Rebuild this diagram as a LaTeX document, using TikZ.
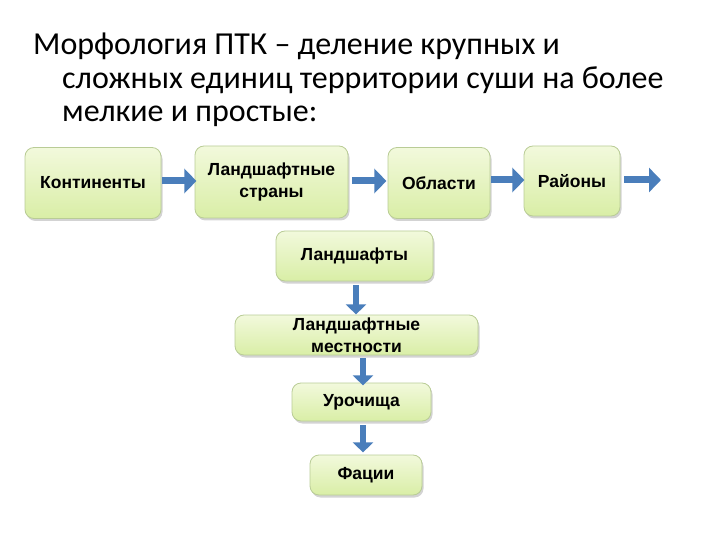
\documentclass[tikz,border=0pt]{standalone}
\usepackage{fontspec}
\setmainfont{Carlito}
\newfontfamily\boxfont{Liberation Sans}
\usetikzlibrary{arrows.meta,shadows}
\definecolor{arrowblue}{HTML}{4A7EBB}
\definecolor{boxedge}{HTML}{B9CC96}
\definecolor{boxtop}{HTML}{F2F9DC}
\definecolor{boxbot}{HTML}{D9EEA6}
\tikzset{
  stage/.style={draw=boxedge, line width=0.8pt, rounded corners=9pt,
    top color=boxtop, bottom color=boxbot,
    drop shadow={shadow xshift=1.5pt, shadow yshift=-2.5pt, opacity=0.35},
    font=\boxfont\bfseries\fontsize{17.5}{22}\selectfont, align=center,
    inner sep=0pt, text=black},
  flow/.style={draw=arrowblue, line width=7pt,
    -{Triangle[width=24pt,length=12pt]}},
  vflow/.style={draw=arrowblue, line width=6.5pt,
    -{Triangle[width=20pt,length=10pt]}},
  ttl/.style={anchor=base west, inner sep=0pt, font=\fontsize{32}{33}\selectfont}
}
\begin{document}
\begin{tikzpicture}[x=1pt,y=-1pt]
\useasboundingbox (0,0) rectangle (720,540);
\node[ttl] (t1) at (33,55) {Морфология ПТК – деление крупных и};
\node[ttl] (t2) at (62,89) {сложных единиц территории суши на более};
\node[ttl] (t3) at (62,122) {мелкие и простые:};

\node[stage, minimum width=136pt, minimum height=71pt] (c) at (93,183) {Континенты};
\node[stage, minimum width=153pt, minimum height=72pt] (s) at (271.5,182) {Ландшафтные\\страны};
\node[stage, minimum width=102pt, minimum height=71pt] (o) at (439,183) {Области};
\node[stage, minimum width=96pt, minimum height=70pt] (r) at (572,181) {Районы};
\node[stage, minimum width=157pt, minimum height=50pt] (l) at (354.5,256) {Ландшафты};
\node[stage, minimum width=243pt, minimum height=40pt] (m) at (356.5,335) {Ландшафтные\\местности};
\node[stage, minimum width=139pt, minimum height=38pt] (u) at (361.5,402) {Урочища};
\node[stage, minimum width=112pt, minimum height=40pt] (f) at (366,475) {Фации};

\coordinate (rend) at (661,180);

\draw[flow] (c.east |- 0,181) ++(1,0) -- ++(34,0);
\draw[flow] (s.east |- 0,181) ++(4,0) -- ++(34,0);
\draw[flow] (o.east |- 0,180) ++(1,0) -- ++(33,0);
\draw[flow] (r.east |- 0,180) ++(4,0) -- (rend);
\draw[vflow] (l.south -| 356,0) ++(0,4) -- ++(0,29);
\draw[vflow] (m.south -| 363,0) ++(0,3) -- ++(0,27);
\draw[vflow] (u.south -| 363,0) ++(0,4) -- ++(0,27);
\end{tikzpicture}
\end{document}
